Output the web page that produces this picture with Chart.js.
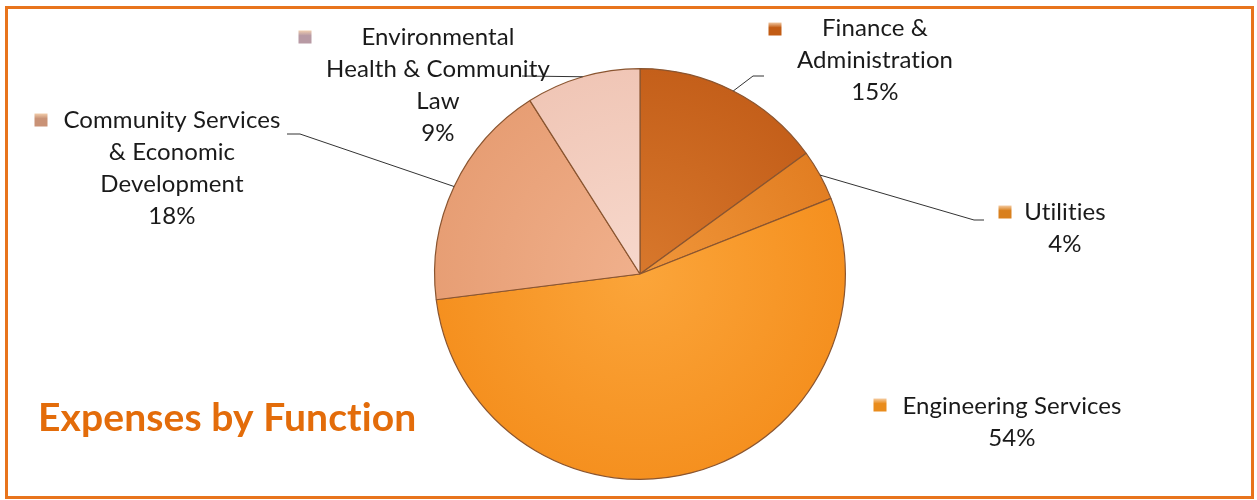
<!DOCTYPE html>
<html>
<head>
<meta charset="utf-8">
<script src="https://cdn.jsdelivr.net/npm/chart.js@4.4.1/dist/chart.umd.min.js"></script>
<style>
  html, body { margin: 0; padding: 0; background: #fff; }
  #wrap { position: relative; width: 1257px; height: 500px; }
</style>
</head>
<body>
<div id="wrap"><canvas id="pie"></canvas></div>
<script>
// data (clockwise from 12 o'clock)
const categories = [
  'Finance & Administration',
  'Utilities',
  'Engineering Services',
  'Community Services & Economic Development',
  'Environmental Health & Community Law'
];
const shares = [15, 4, 54, 18, 9];
const labelLines = [
  ['Finance &', 'Administration'],
  ['Utilities'],
  ['Engineering Services'],
  ['Community Services', '& Economic', 'Development'],
  ['Environmental', 'Health & Community', 'Law']
];
const chartTitle = 'Expenses by Function';

// inner / outer shade of each slice
const sliceInner = ['#d8782c', '#f0963a', '#fba53a', '#f0b08c', '#f7d8cc'];
const sliceOuter = ['#c45f1a', '#e27e22', '#f5901f', '#e79e74', '#f0c6b6'];
const markerColors = ['#c25c14', '#d9801e', '#e98c1c', '#c99276', '#b89aa4'];

// where each label sits (marker, text centre, first baseline, leader bend/end)
const labelPos = [
  { mx: 775, my: 29, tx: 875, by: 36, leader: [[753, 76], [764, 76]] },
  { mx: 1005, my: 212, tx: 1065, by: 220, leader: [[974, 220], [984, 220]] },
  { mx: 880, my: 405, tx: 1012, by: 414, leader: null },
  { mx: 41, my: 120, tx: 172, by: 128, leader: [[300, 134], [287, 134]] },
  { mx: 305, my: 37, tx: 438, by: 45, leader: [[522, 76]] }
];
const lineH = 32;

function sliceFill(ctx) {
  const chart = ctx.chart;
  const a = chart.chartArea;
  if (!a) return sliceOuter[ctx.dataIndex];
  const cx = (a.left + a.right) / 2, cy = (a.top + a.bottom) / 2;
  const r = Math.min(a.right - a.left, a.bottom - a.top) / 2;
  const g = chart.ctx.createRadialGradient(cx, cy, 0, cx, cy, r);
  g.addColorStop(0, sliceInner[ctx.dataIndex]);
  g.addColorStop(1, sliceOuter[ctx.dataIndex]);
  return g;
}

const labelsPlugin = {
  id: 'outsideLabels',
  beforeDraw(chart) {
    const c = chart.ctx;
    c.save();
    c.fillStyle = '#ffffff';
    c.fillRect(0, 0, chart.width, chart.height);
    c.strokeStyle = '#e8741c';
    c.lineWidth = 3;
    c.strokeRect(6.5, 7.5, 1246, 490);
    c.restore();
  },
  afterDatasetsDraw(chart) {
    const c = chart.ctx;
    const meta = chart.getDatasetMeta(0);
    const total = shares.reduce((a, b) => a + b, 0);
    c.save();
    if ('letterSpacing' in c) c.letterSpacing = '0.1px'; // no "ti" ligature
    meta.data.forEach((arc, i) => {
      const p = labelPos[i];
      const { x, y, startAngle, endAngle, outerRadius } =
        arc.getProps(['x', 'y', 'startAngle', 'endAngle', 'outerRadius'], true);
      if (p.leader) {
        const mid = (startAngle + endAngle) / 2;
        c.beginPath();
        c.moveTo(x + Math.cos(mid) * outerRadius, y + Math.sin(mid) * outerRadius);
        p.leader.forEach(pt => c.lineTo(pt[0], pt[1]));
        c.strokeStyle = '#333';
        c.lineWidth = 1;
        c.stroke();
      }
      // marker
      const g = c.createLinearGradient(p.mx, p.my - 7, p.mx, p.my + 7);
      g.addColorStop(0, '#f6d3b0');
      g.addColorStop(0.4, markerColors[i]);
      g.addColorStop(1, markerColors[i]);
      c.fillStyle = g;
      c.fillRect(p.mx - 6.5, p.my - 6.5, 13, 13);
      // text
      c.fillStyle = '#1a1a1a';
      c.font = '24px Lato, "Open Sans", sans-serif';
      c.textAlign = 'center';
      c.textBaseline = 'alphabetic';
      const lines = labelLines[i].concat([Math.round(shares[i] / total * 100) + '%']);
      lines.forEach((t, k) => c.fillText(t, p.tx, p.by + k * lineH));
    });
    c.fillStyle = '#e36c0a';
    c.font = 'bold 39px Lato, "Open Sans", sans-serif';
    c.textAlign = 'left';
    c.fillText(chartTitle, 38, 431);
    c.restore();
  }
};

new Chart(document.getElementById('pie'), {
  type: 'pie',
  data: {
    labels: categories,
    datasets: [{
      data: shares,
      backgroundColor: sliceFill,
      borderColor: '#8a5530',
      borderWidth: 1.2
    }]
  },
  options: {
    responsive: true,
    maintainAspectRatio: false,
    animation: false,
    layout: { padding: { left: 434, right: 411, top: 68, bottom: 20 } },
    plugins: {
      legend: { display: false },
      tooltip: { enabled: false }
    }
  },
  plugins: [labelsPlugin]
});
</script>
</body>
</html>
